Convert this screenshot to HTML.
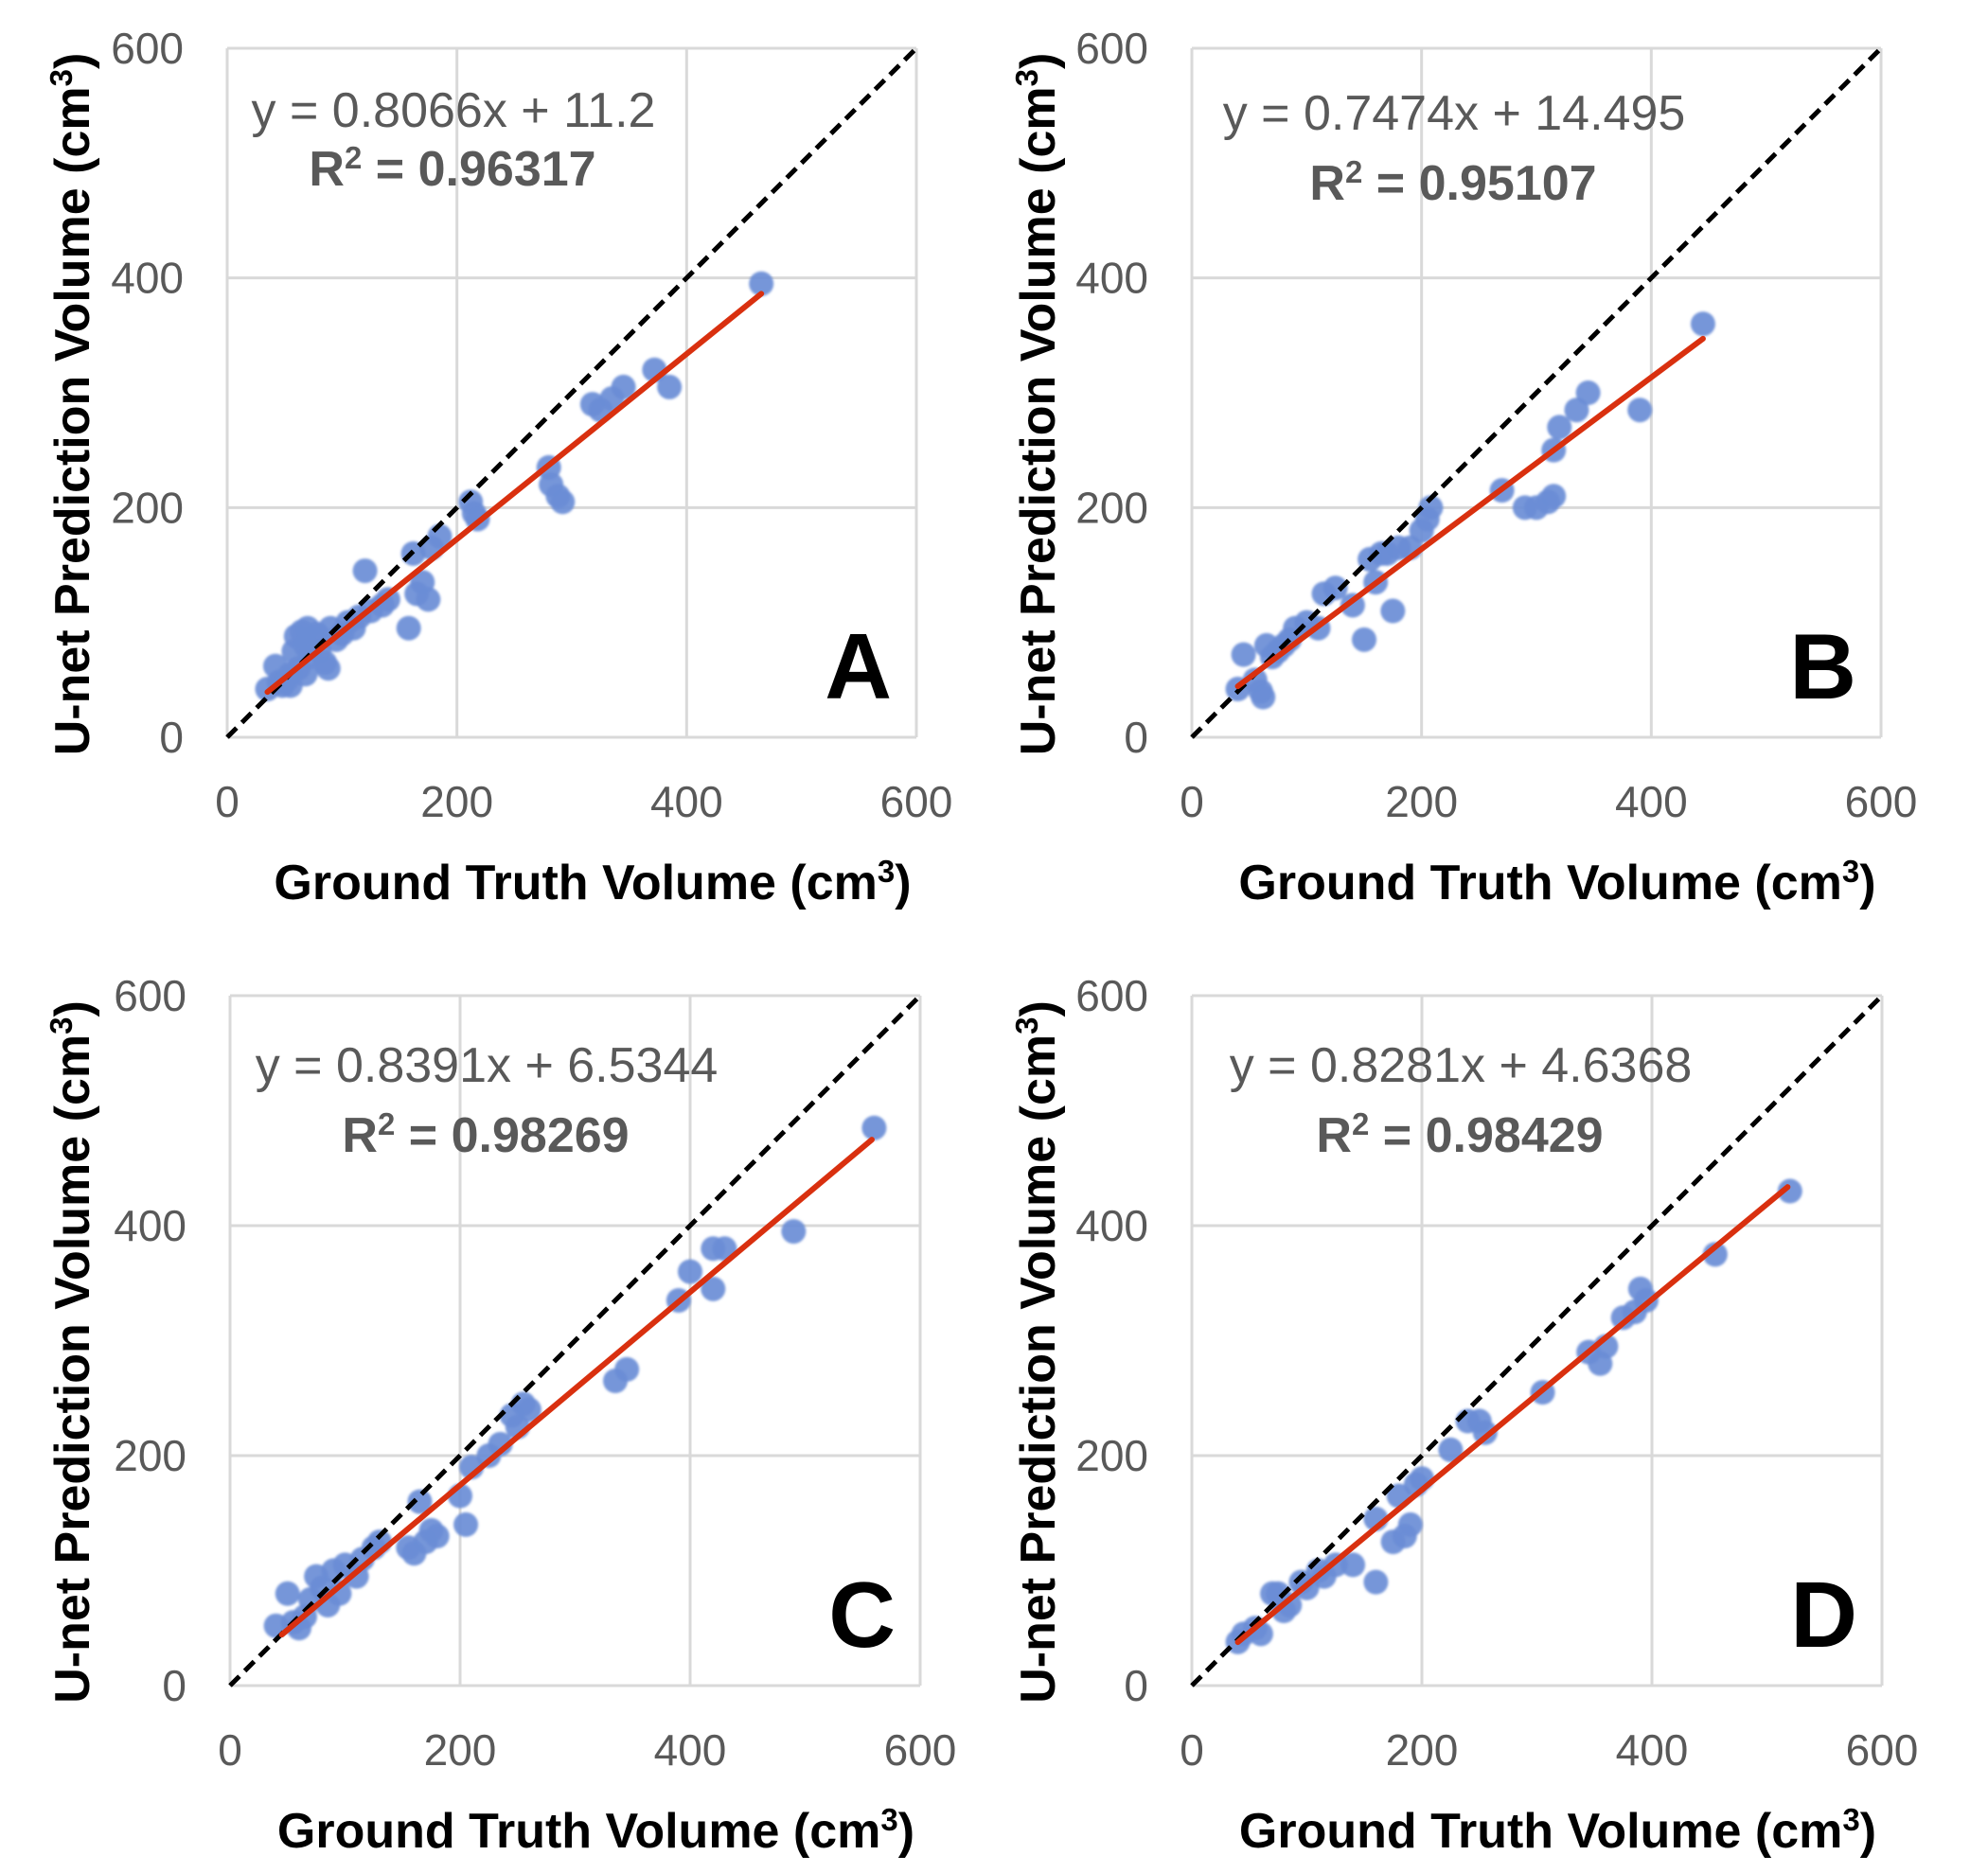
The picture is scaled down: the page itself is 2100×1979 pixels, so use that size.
<!DOCTYPE html>
<html><head><meta charset="utf-8"><style>
html,body{margin:0;padding:0;background:#fff;}
svg{display:block;font-family:"Liberation Sans",sans-serif;}
</style></head><body>
<svg id="fig" width="2100" height="1979" viewBox="0 0 2100 1979" xmlns="http://www.w3.org/2000/svg">
<defs><filter id="soft" x="-20%" y="-20%" width="140%" height="140%"><feGaussianBlur stdDeviation="1.2"/></filter></defs>
</svg>
<script>
const ticks = [0, 200, 400, 600];
const tickLabels = ["0", "200", "400", "600"];
const panelLetters = ["A", "B", "C", "D"];
const equations = ["y = 0.8066x + 11.2", "y = 0.7474x + 14.495", "y = 0.8391x + 6.5344", "y = 0.8281x + 4.6368"];
const r2Labels = ["0.96317", "0.95107", "0.98269", "0.98429"];
const slopes = [0.8066, 0.7474, 0.8391, 0.8281];
const intercepts = [11.2, 14.495, 6.5344, 4.6368];
const fitStart = [35, 40, 45, 40];
const fitEnd = [465, 445, 558, 518];
const xA = [35,42,45,48,52,55,55,58,60,62,65,68,68,70,72,75,78,80,85,88,90,95,100,105,110,115,120,125,135,140,158,162,165,170,175,178,185,212,215,218,280,282,288,292,318,325,335,345,372,385,465];
const yA = [42,62,48,45,50,55,45,75,88,60,92,80,55,95,70,85,90,75,65,60,95,85,90,100,95,105,145,110,115,120,95,160,125,135,120,165,175,205,195,190,235,220,210,205,290,285,295,305,320,305,395];
const xB = [40,45,55,60,62,65,70,75,80,85,90,100,110,115,125,140,150,155,160,165,170,175,180,190,200,205,208,270,290,300,310,315,315,320,335,345,390,445];
const yB = [42,72,50,40,35,80,70,75,80,85,95,100,95,125,130,115,85,155,135,160,160,110,165,165,180,190,200,215,200,200,205,210,250,270,285,300,285,360];
const xC = [40,50,55,60,65,70,75,80,85,90,95,100,110,115,125,130,155,160,165,170,175,180,200,205,210,225,235,245,250,255,260,335,345,390,400,420,420,430,490,560];
const yC = [52,80,55,50,60,75,95,85,70,100,80,105,95,110,120,125,120,115,160,125,135,130,165,140,190,200,210,235,225,245,240,265,275,335,360,345,380,380,395,485];
const xD = [40,45,55,60,70,75,80,85,95,100,110,115,125,140,160,160,175,180,185,190,195,200,225,240,250,255,305,345,355,360,375,385,390,395,455,520];
const yD = [38,45,50,45,80,80,65,70,90,85,100,95,105,105,90,145,125,165,130,140,175,180,205,230,230,220,255,290,280,295,320,325,345,335,375,430];
const seriesX = [xA, xB, xC, xD];
const seriesY = [yA, yB, yC, yD];

const panels = [
  {x0:240, x1:968, y0:51, y1:779, ytx:76, eqx:479, eqy:134, r2y:196},
  {x0:1259, x1:1987, y0:51, y1:779, ytx:1096, eqx:1536, eqy:137, r2y:211},
  {x0:243, x1:972, y0:1052, y1:1781, ytx:76, eqx:514, eqy:1143, r2y:1217},
  {x0:1259, x1:1988, y0:1052, y1:1781, ytx:1096, eqx:1543, eqy:1143, r2y:1217}
];
const NS = "http://www.w3.org/2000/svg";
const svg = document.getElementById("fig");
function mk(tag, attrs, parent) {
  const e = document.createElementNS(NS, tag);
  for (const k in attrs) e.setAttribute(k, attrs[k]);
  (parent || svg).appendChild(e);
  return e;
}
panels.forEach((p, i) => {
  const g = mk("g", {});
  
  
  const sx = v => p.x0 + (p.x1 - p.x0) * v / 600;
  const sy = v => p.y1 - (p.y1 - p.y0) * v / 600;
  ticks.forEach((t, k) => {
    const gl = mk("line", {x1:p.x0, x2:p.x1, y1:sy(t), y2:sy(t), stroke:"#d9d9d9", "stroke-width":3}, g);
    
    
    const vl = mk("line", {x1:sx(t), x2:sx(t), y1:p.y0, y2:p.y1, stroke:"#d9d9d9", "stroke-width":3}, g);
    
    
    const yl = mk("text", {x:p.x0 - 46, y:sy(t) + 16, "text-anchor":"end", "font-size":46, fill:"#595959"}, g);
    yl.textContent = tickLabels[k];
    
    
    const xl = mk("text", {x:sx(t), y:p.y1 + 84, "text-anchor":"middle", "font-size":46, fill:"#595959"}, g);
    xl.textContent = tickLabels[k];
    
    
  });
  const pg = mk("g", {filter:"url(#soft)"}, g);
  seriesX[i].forEach((xv, j) => {
    const c = mk("circle", {cx:sx(xv), cy:sy(seriesY[i][j]), r:13, fill:"#6a8dd6", "fill-opacity":0.92}, pg);
    
    
  });
  const id = mk("line", {x1:sx(0), y1:sy(0), x2:sx(600), y2:sy(600), stroke:"#000", "stroke-width":5, "stroke-dasharray":"14 8"}, g);
  
  
  const a = fitStart[i], b = fitEnd[i];
  const tl = mk("line", {x1:sx(a), y1:sy(slopes[i]*a + intercepts[i]), x2:sx(b), y2:sy(slopes[i]*b + intercepts[i]), stroke:"#d9300f", "stroke-width":6, "stroke-linecap":"round"}, g);
  
  
  const eq = mk("text", {x:p.eqx, y:p.eqy, "text-anchor":"middle", "font-size":52, fill:"#595959"}, g);
  eq.textContent = equations[i];
  
  
  const r2 = mk("text", {x:p.eqx - 1, y:p.r2y, "text-anchor":"middle", "font-size":52, "font-weight":"bold", fill:"#595959"}, g);
  r2.innerHTML = 'R<tspan dy="-18" font-size="33">2</tspan><tspan dy="18"> = ' + r2Labels[i] + '</tspan>';
  
  
  const L = mk("text", {x:p.x1 - 26, y:p.y1 - 41, "text-anchor":"end", "font-size":98, "font-weight":"bold", fill:"#000"}, g);
  L.textContent = panelLetters[i];
  
  
  const xt = mk("text", {x:(p.x0 + p.x1)/2 + 22, y:p.y1 + 171, "text-anchor":"middle", "font-size":52, "font-weight":"bold", fill:"#000"}, g);
  xt.innerHTML = 'Ground Truth Volume (cm<tspan dy="-18" font-size="33">3</tspan><tspan dy="18">)</tspan>';
  
  
  const cy = (p.y0 + p.y1)/2 + 12;
  const yt = mk("text", {x:0, y:0, transform:"translate(" + (p.ytx + 18) + "," + cy + ") rotate(-90)", "text-anchor":"middle", "font-size":52, "font-weight":"bold", fill:"#000"}, g);
  yt.innerHTML = 'U-net Prediction Volume (cm<tspan dy="-18" font-size="33">3</tspan><tspan dy="18">)</tspan>';
  
  
});
</script>
</body></html>
